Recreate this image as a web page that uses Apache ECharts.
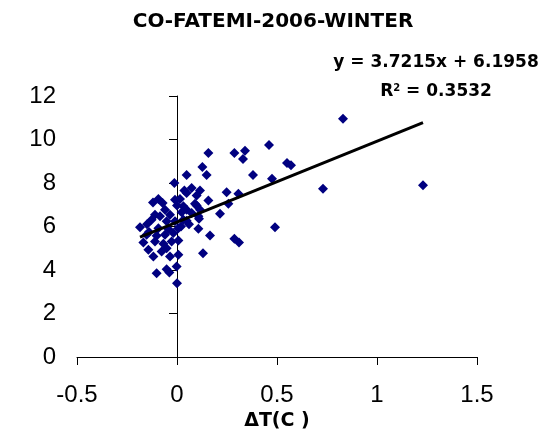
<!DOCTYPE html>
<html>
<head>
<meta charset="utf-8">
<script src="https://cdn.jsdelivr.net/npm/echarts@6/dist/echarts.min.js"></script>
<style>
  html, body { margin: 0; padding: 0; background: #fff; }
  #chart { width: 539px; height: 434px; }
</style>
</head>
<body>
<div id="chart"></div>
<script>
// Daily temperature difference (°C) against CO concentration (ppm)
const deltaT = [
  0.83, 0.46, 0.34, 0.33, 0.287, 0.157, 0.55, 0.57, 0.127, 0.38,
  0.148, 0.048, 0.475, 0.73, 1.23, 0.073, 0.048, 0.248, 0.307, 0.157,
  0.09, 0.257, 0.215, 0.107, 0.048, 0.048, 0.11, 0.107, 0.165, 0.287,
  0.31, 0.13, 0.49,
  -0.013, 0.115, 0.037, -0.093, -0.072, 0.015, 0.098, 0.032, 0.0, -0.01,
  0.098, -0.06, -0.11, -0.035, 0.023, 0.073, 0.115, -0.085, -0.127, -0.052,
  -0.01, 0.032, -0.185, -0.093, -0.043, 0.007, -0.152, -0.102, -0.06, -0.018,
  -0.168, -0.11, -0.068, -0.027, 0.007, -0.143, -0.052, -0.077, -0.118, -0.035,
  0.007, -0.102, -0.052, -0.038, -0.002, 0.0,
  -0.15, -0.14, 0.02, 0.06, -0.12
];
const co = [
  10.95, 9.75, 9.48, 9.1, 9.38, 9.38, 8.92, 8.82, 8.74, 8.37,
  8.37, 8.37, 8.2, 7.73, 7.9, 7.77, 7.54, 7.57, 7.51, 7.19,
  7.05, 7.05, 6.59, 6.47, 6.77, 6.27, 6.36, 5.9, 5.59, 5.44,
  5.27, 4.77, 5.97,
  8.0, 7.66, 7.66, 7.26, 7.08, 7.26, 7.42, 6.93, 6.96, 7.23,
  6.96, 6.77, 6.54, 6.54, 6.65, 6.62, 6.77, 6.47, 6.31, 6.24,
  6.24, 6.31, 5.97, 5.92, 5.88, 5.92, 5.62, 5.58, 5.62, 5.7,
  5.27, 5.31, 5.21, 5.31, 5.36, 4.93, 5.0, 4.85, 4.62, 4.62,
  4.7, 3.85, 4.03, 3.88, 4.16, 3.39,
  6.1, 5.75, 6.0, 6.1, 7.1
];

// Linear trend coefficients as reported on the chart
const slope = 3.7215;
const intercept = 6.1958;
const rSquared = 0.3532;

const points = deltaT.map((x, i) => [x, co[i]]);
const xMin = Math.min(...deltaT);
const xMax = Math.max(...deltaT);
const trend = [[xMin, slope * xMin + intercept], [xMax, slope * xMax + intercept]];

const tickFont = '"Liberation Sans", Arial, sans-serif';
const boldFont = '"DejaVu Sans", "Liberation Sans", Arial, sans-serif';
const chart = echarts.init(document.getElementById('chart'));

chart.setOption({
  animation: false,
  backgroundColor: '#ffffff',
  textStyle: { fontFamily: tickFont, color: '#000' },
  title: [
    {
      text: 'CO-FATEMI-2006-WINTER',
      left: 268, top: 7, textAlign: 'center',
      textStyle: { fontFamily: boldFont, fontSize: 20, fontWeight: 'bold', color: '#000' }
    },
    {
      text: 'y = ' + slope + 'x + ' + intercept,
      left: 431, top: 49, textAlign: 'center',
      textStyle: { fontFamily: boldFont, fontSize: 17, fontWeight: 'bold', color: '#000' }
    },
    {
      text: '{b|R}{s|2}{b| = ' + rSquared + '}',
      left: 431, top: 78, textAlign: 'center',
      textStyle: {
        rich: {
          b: { fontFamily: boldFont, fontSize: 17, fontWeight: 'bold', color: '#000' },
          s: { fontFamily: boldFont, fontSize: 10, fontWeight: 'bold', color: '#000', verticalAlign: 'top', padding: [0, 0, 7, 0] }
        }
      }
    }
  ],
  grid: { left: 77, right: 62, top: 96, bottom: 77, containLabel: false, outerBoundsMode: 'none' },
  xAxis: {
    type: 'value',
    min: -0.5, max: 1.5, interval: 0.5,
    name: 'ΔT(C )',
    nameLocation: 'middle', nameGap: 49,
    nameTextStyle: { fontFamily: boldFont, fontSize: 19, fontWeight: 'bold', color: '#000' },
    axisLine: { onZero: true, lineStyle: { color: '#000', width: 1 } },
    axisTick: { show: true, inside: false, length: 8, lineStyle: { color: '#000' } },
    axisLabel: { fontFamily: tickFont, fontSize: 24, color: '#000', margin: 26 },
    splitLine: { show: false }
  },
  yAxis: {
    type: 'value',
    min: 0, max: 12, interval: 2,
    name: 'CO (ppm)',
    nameLocation: 'middle', nameGap: 142, nameRotate: 90,
    nameTextStyle: { fontFamily: boldFont, fontSize: 17, fontWeight: 'bold', color: '#000' },
    axisLine: { onZero: true, lineStyle: { color: '#000', width: 1 } },
    axisTick: { show: true, inside: false, length: 8, lineStyle: { color: '#000' } },
    axisLabel: { fontFamily: tickFont, fontSize: 24, color: '#000', margin: 21 },
    splitLine: { show: false }
  },
  series: [
    {
      type: 'scatter',
      data: points,
      symbol: 'diamond',
      symbolSize: 10,
      itemStyle: { color: '#000080', opacity: 1 },
      z: 2
    },
    {
      type: 'line',
      data: trend,
      symbol: 'none',
      lineStyle: { color: '#000', width: 3 },
      z: 3
    }
  ]
});
</script>
</body>
</html>
